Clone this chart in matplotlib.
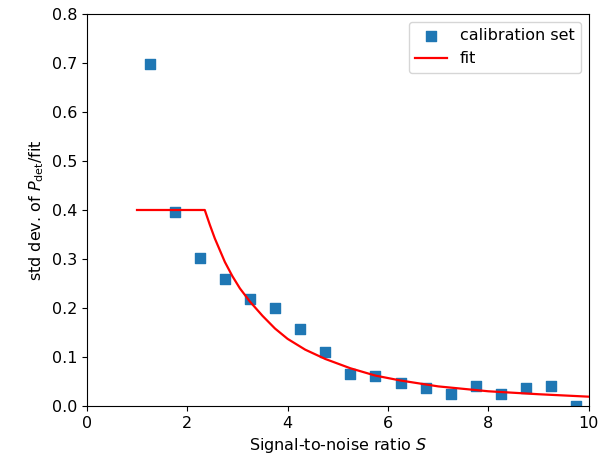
import matplotlib
matplotlib.use('Agg')
import matplotlib.pyplot as plt
import numpy as np

# calibration set: binned SNR vs std dev of P_det/fit
snr_bins = [1.25, 1.75, 2.25, 2.75, 3.25, 3.75, 4.25, 4.75, 5.25,
            5.75, 6.25, 6.75, 7.25, 7.75, 8.25, 8.75, 9.25, 9.75]
std_dev = [0.698, 0.396, 0.302, 0.259, 0.218, 0.200, 0.157, 0.110, 0.065,
           0.061, 0.047, 0.037, 0.024, 0.041, 0.024, 0.037, 0.041, 0.000]

# fit curve
fit_x = [1.0, 2.35, 2.45, 2.55, 2.65, 2.75, 2.9, 3.05, 3.25, 3.5, 3.75,
         4.0, 4.35, 4.75, 5.25, 5.75, 6.25, 7.0, 8.0, 9.0, 10.0]
fit_y = [0.400, 0.400, 0.370, 0.342, 0.318, 0.294, 0.265, 0.240, 0.213, 0.184, 0.158,
         0.137, 0.115, 0.096, 0.077, 0.062, 0.052, 0.040, 0.030, 0.024, 0.019]

plt.rcParams['font.size'] = 11.5

fig = plt.figure(figsize=(6.07, 4.59), dpi=100)
ax = fig.add_axes([0.143, 0.1155, 0.827, 0.854])

ax.scatter(snr_bins, std_dev, marker='s', s=60, color='#1f77b4',
           label='calibration set', zorder=2)
ax.plot(fit_x, fit_y, color='red', lw=1.6, label='fit', zorder=3)

ax.set_xlim(0, 10)
ax.set_ylim(0, 0.8)
ax.set_xlabel('Signal-to-noise ratio $S$')
ax.set_ylabel(r'std dev. of $P_{\rm det}$/fit')
ax.legend(loc='upper right')

fig.savefig('out.png', dpi=100)
